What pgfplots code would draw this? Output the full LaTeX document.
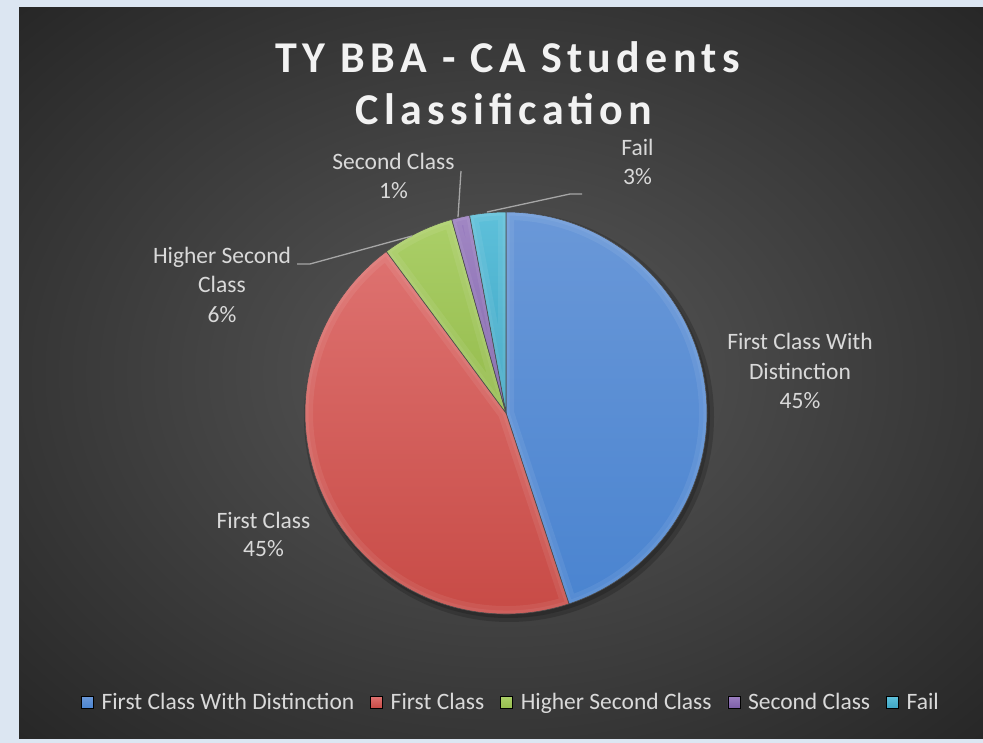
\documentclass[border=0pt]{standalone}
\usepackage{pgfplots}
\pgfplotsset{compat=1.18}
\usepackage{pgfplotstable}
\usepackage{fontspec}
\setmainfont{Carlito}
\newfontfamily\titlefont{Carlito}[LetterSpace=12]
\definecolor{frame}{HTML}{DCE6F2}
\definecolor{bgin}{HTML}{595959}
\definecolor{bgout}{HTML}{262626}
\definecolor{lab}{HTML}{D9D9D9}
\definecolor{lead}{HTML}{A6A6A6}
\definecolor{s0top}{HTML}{6A98D8}\definecolor{s0bot}{HTML}{4A84D0}
\definecolor{s1top}{HTML}{DE7270}\definecolor{s1bot}{HTML}{C64843}
\definecolor{s2top}{HTML}{ABCF68}\definecolor{s2bot}{HTML}{94BB4C}
\definecolor{s3top}{HTML}{9A7EC0}\definecolor{s3bot}{HTML}{7B5DA6}
\definecolor{s4top}{HTML}{5EC0DA}\definecolor{s4bot}{HTML}{3DA5C4}
\pgfdeclareradialshading{bgshade}{\pgfpoint{0bp}{0bp}}{color(0bp)=(bgin); color(36bp)=(bgout); color(50bp)=(bgout)}
\pgfplotstableread{
value label
31 {First Class With Distinction}
31 {First Class}
4 {Higher Second Class}
1 {Second Class}
2 {Fail}
}\piedata
\newcommand\lbl[3]{\node[anchor=base, text=lab, font=\fontsize{23.5}{28}\selectfont] at (axis cs:#1,#2) {#3};}
\newcommand\slicepath[2]{(axis cs:506,330) -- (axis cs:{506+201*cos(#1)},{330+201*sin(#1)}) arc[start angle=#1, end angle=#2, radius=201pt] -- cycle}
\begin{document}%
\pgfmathsetmacro\total{0}%
\pgfplotsforeachungrouped \i in {0,...,4}{%
  \pgfplotstablegetelem{\i}{value}\of\piedata
  \pgfmathsetmacro\total{\total+\pgfplotsretval}%
}%
\pgfmathsetmacro\cur{90}%
\pgfplotsforeachungrouped \i in {0,...,4}{%
  \expandafter\xdef\csname s\i\endcsname{\cur}%
  \pgfplotstablegetelem{\i}{value}\of\piedata
  \pgfmathsetmacro\cur{\cur-360*\pgfplotsretval/\total}%
  \expandafter\xdef\csname e\i\endcsname{\cur}%
}%
\begin{tikzpicture}
\begin{axis}[width=983pt, height=743pt, scale only axis,
  xmin=0, xmax=983, ymin=0, ymax=743, axis lines=none, clip=false,
  legend style={at={(axis cs:511,40.5)}, anchor=center, legend columns=-1,
    draw=none, fill=none, text=lab, font=\fontsize{23.5}{28}\selectfont,
    /tikz/every odd column/.append style={column sep=6pt},
    /tikz/every even column/.append style={column sep=14pt}},
  legend cell align=left]
\fill[frame] (axis cs:0,0) rectangle (axis cs:983,743);
\shade[shading=bgshade] (axis cs:19,4) rectangle (axis cs:983,735);
% title
\node[anchor=base, text=white!95!black, font=\titlefont\fontsize{44}{50}\selectfont\bfseries] at (axis cs:507.5,670) {TY BBA - CA Students};
\node[anchor=base, text=white!95!black, font=\titlefont\fontsize{44}{50}\selectfont\bfseries] at (axis cs:504,618) {Classification};
% shadow
\fill[black, opacity=0.18] (axis cs:509,326) circle[radius=205pt];
\fill[black, opacity=0.18] (axis cs:508,327) circle[radius=202pt];
% slices
\pgfplotsinvokeforeach{0,...,4}{
  \shade[top color=s#1top, bottom color=s#1bot] \slicepath{\csname s#1\endcsname}{\csname e#1\endcsname};
  \begin{scope}
    \clip \slicepath{\csname s#1\endcsname}{\csname e#1\endcsname};
    \draw[white, opacity=0.07, line width=16pt] \slicepath{\csname s#1\endcsname}{\csname e#1\endcsname};
    \draw[white, opacity=0.06, line width=7pt] \slicepath{\csname s#1\endcsname}{\csname e#1\endcsname};
  \end{scope}
  \draw[black!70, line width=0.6pt] \slicepath{\csname s#1\endcsname}{\csname e#1\endcsname};
}
% leader lines
\addplot[lead, line width=1.3pt, no marks, forget plot] coordinates {(297,479) (310,479) (412,507)};
\addplot[lead, line width=1.3pt, no marks, forget plot] coordinates {(461,572) (458,526)};
\addplot[lead, line width=1.3pt, no marks, forget plot] coordinates {(582,549) (570,549) (487,531)};
% labels
\lbl{800}{393}{First Class With}
\lbl{800}{363}{Distinction}
\lbl{800}{334}{45\%}
\lbl{263.5}{214}{First Class}
\lbl{263.5}{186}{45\%}
\lbl{222}{479}{Higher Second}
\lbl{222}{450}{Class}
\lbl{222}{420}{6\%}
\lbl{393.5}{573}{Second Class}
\lbl{393.5}{544}{1\%}
\lbl{637.5}{587}{Fail}
\lbl{637.5}{558}{3\%}
% legend
\addlegendimage{legend image code/.code={\shade[top color=s0top, bottom color=s0bot] (0pt,-6pt) rectangle (12pt,6pt);}}
\addlegendentry{First Class With Distinction}
\addlegendimage{legend image code/.code={\shade[top color=s1top, bottom color=s1bot] (0pt,-6pt) rectangle (12pt,6pt);}}
\addlegendentry{First Class}
\addlegendimage{legend image code/.code={\shade[top color=s2top, bottom color=s2bot] (0pt,-6pt) rectangle (12pt,6pt);}}
\addlegendentry{Higher Second Class}
\addlegendimage{legend image code/.code={\shade[top color=s3top, bottom color=s3bot] (0pt,-6pt) rectangle (12pt,6pt);}}
\addlegendentry{Second Class}
\addlegendimage{legend image code/.code={\shade[top color=s4top, bottom color=s4bot] (0pt,-6pt) rectangle (12pt,6pt);}}
\addlegendentry{Fail}
\end{axis}
\end{tikzpicture}%
\end{document}
